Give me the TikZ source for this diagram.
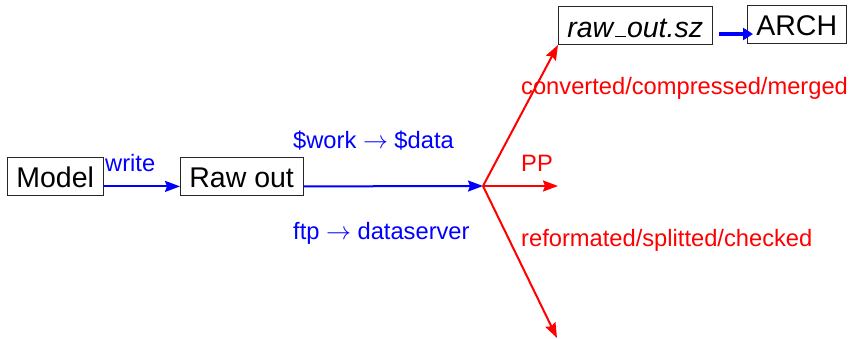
\documentclass[tikz,border=0pt]{standalone}
\usepackage{fontspec}
\setmainfont{Liberation Sans}
\usetikzlibrary{arrows.meta}
\begin{document}
\begin{tikzpicture}[x=1pt,y=-1pt,
  box/.style={draw=black!85,line width=0.8pt,inner xsep=9pt,inner ysep=7.5pt,text height=23pt,text depth=0pt,font=\fontsize{28.5}{30}\selectfont},
  lbl/.style={inner sep=0pt,anchor=base west,font=\fontsize{23.7}{26}\selectfont},
  bluearr/.style={draw=blue,line width=2pt,-{Stealth[length=15pt,width=11pt,inset=2pt]}},
  redarr/.style={draw=red,line width=2pt,-{Stealth[length=15pt,width=11pt,inset=2pt]}}]
\useasboundingbox (0,0) rectangle (854,338);
\node[box,anchor=west] (model) at (7,176) {Model};
\node[box,anchor=west] (rawout) at (180,176) {Raw out};
\node[box,anchor=west] (rawsz) at (558,25.5) {\itshape raw\kern.06em\vbox{\hrule width.38em height 1.3pt}\kern.04em out.sz};
\node[box,anchor=west] (arch) at (747,24) {ARCH};
\coordinate (j) at (483,186);
\coordinate (pp) at (558,186);
\coordinate (down) at (557,338);
\draw[bluearr] ([yshift=9pt]model.south east) -- ([yshift=9pt]rawout.south west);
\draw[bluearr] ([yshift=9pt]rawout.south east) -- (j);
\draw[redarr] (j) -- (rawsz.south west);
\draw[redarr] (j) -- (pp);
\draw[redarr] (j) -- (down);
\draw[draw=blue,line width=4.5pt,-{Triangle[length=10pt,width=12pt]}] ([xshift=7pt,yshift=-8.5pt]rawsz.east) -- ([xshift=6pt,yshift=-10pt]arch.west);
\node[lbl,text=blue] (lw) at (105,171) {write};
\node[lbl,text=blue] (lwork) at (293,148) {\$work $\rightarrow$ \$data};
\node[lbl,text=blue] (lftp) at (293,239) {ftp $\rightarrow$ dataserver};
\node[lbl,text=red] (lconv) at (521,94.5) {converted/compressed/merged};
\node[lbl,text=red] (lpp) at (521,171) {PP};
\node[lbl,text=red] (lref) at (521,246) {reformated/splitted/checked};
\end{tikzpicture}
\end{document}
